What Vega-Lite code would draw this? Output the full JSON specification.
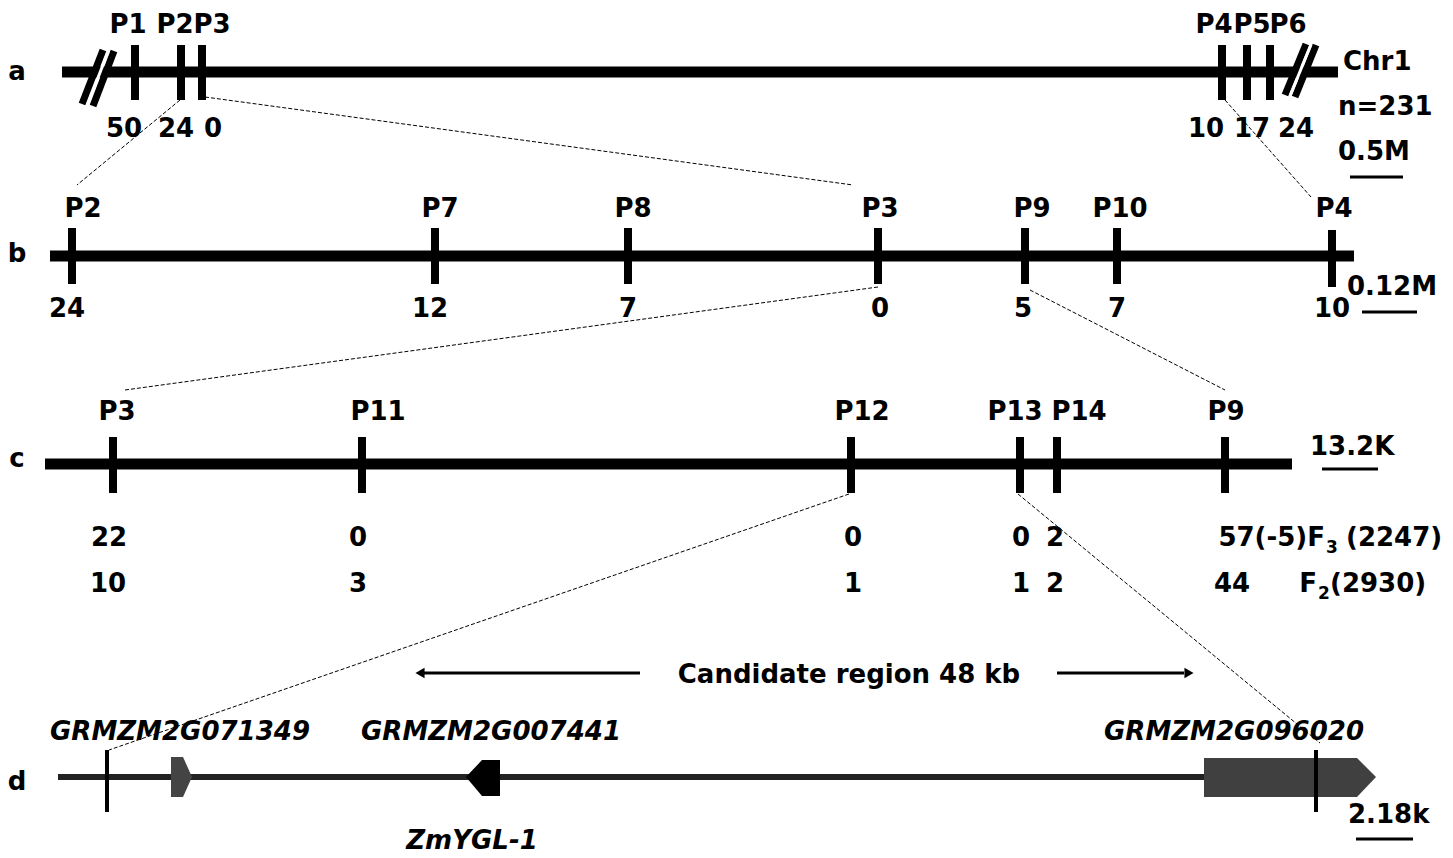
{
  "$schema": "https://vega.github.io/schema/vega-lite/v6.json",
  "width": 1453,
  "height": 858,
  "autosize": {"type": "none"},
  "padding": 0,
  "background": "white",
  "config": {"view": {"stroke": null}},
  "datasets": {
    "segs": [
      {"kind": "dash", "x": 180, "y": 100, "x2": 77, "y2": 185},
      {"kind": "dash", "x": 205, "y": 97, "x2": 853, "y2": 185},
      {"kind": "dash", "x": 1225, "y": 100, "x2": 1311, "y2": 197},
      {"kind": "dash", "x": 878, "y": 287, "x2": 125, "y2": 390},
      {"kind": "dash", "x": 1030, "y": 290, "x2": 1225, "y2": 390},
      {"kind": "dash", "x": 849, "y": 494, "x2": 109, "y2": 750},
      {"kind": "dash", "x": 1018, "y": 494, "x2": 1320, "y2": 743},
      {"kind": "chrom", "x": 62, "y": 72, "x2": 1338, "y2": 72},
      {"kind": "chrom", "x": 50, "y": 256, "x2": 1354, "y2": 256},
      {"kind": "chrom", "x": 45, "y": 464, "x2": 1292, "y2": 464},
      {"kind": "tick", "x": 135, "y": 45, "x2": 135, "y2": 100},
      {"kind": "tick", "x": 181, "y": 45, "x2": 181, "y2": 100},
      {"kind": "tick", "x": 202, "y": 45, "x2": 202, "y2": 100},
      {"kind": "tick", "x": 1222, "y": 45, "x2": 1222, "y2": 100},
      {"kind": "tick", "x": 1247, "y": 45, "x2": 1247, "y2": 100},
      {"kind": "tick", "x": 1270, "y": 45, "x2": 1270, "y2": 100},
      {"kind": "tick", "x": 72, "y": 228, "x2": 72, "y2": 284},
      {"kind": "tick", "x": 435, "y": 228, "x2": 435, "y2": 284},
      {"kind": "tick", "x": 628, "y": 228, "x2": 628, "y2": 284},
      {"kind": "tick", "x": 878, "y": 228, "x2": 878, "y2": 284},
      {"kind": "tick", "x": 1025, "y": 228, "x2": 1025, "y2": 284},
      {"kind": "tick", "x": 1117, "y": 228, "x2": 1117, "y2": 284},
      {"kind": "tick", "x": 1332, "y": 230, "x2": 1332, "y2": 287},
      {"kind": "tick", "x": 113, "y": 437, "x2": 113, "y2": 493},
      {"kind": "tick", "x": 362, "y": 437, "x2": 362, "y2": 493},
      {"kind": "tick", "x": 851, "y": 437, "x2": 851, "y2": 493},
      {"kind": "tick", "x": 1020, "y": 437, "x2": 1020, "y2": 493},
      {"kind": "tick", "x": 1057, "y": 437, "x2": 1057, "y2": 493},
      {"kind": "tick", "x": 1225, "y": 437, "x2": 1225, "y2": 493},
      {"kind": "slash", "x": 82, "y": 104, "x2": 103, "y2": 50},
      {"kind": "slash", "x": 93, "y": 106, "x2": 114, "y2": 51},
      {"kind": "slash", "x": 1285, "y": 95, "x2": 1306, "y2": 44},
      {"kind": "slash", "x": 1295, "y": 97, "x2": 1316, "y2": 45},
      {"kind": "gap", "x": 87.5, "y": 105, "x2": 108.5, "y2": 50.5},
      {"kind": "gap", "x": 1290, "y": 96, "x2": 1311, "y2": 44.5},
      {"kind": "gline", "x": 58, "y": 777, "x2": 1210, "y2": 777},
      {"kind": "marker", "x": 107, "y": 750, "x2": 107, "y2": 812},
      {"kind": "marker", "x": 1316, "y": 750, "x2": 1316, "y2": 812},
      {"kind": "scale", "x": 1350, "y": 177, "x2": 1403, "y2": 177},
      {"kind": "scale", "x": 1362, "y": 312, "x2": 1417, "y2": 312},
      {"kind": "scale", "x": 1322, "y": 469, "x2": 1378, "y2": 469},
      {"kind": "scale", "x": 1356, "y": 839, "x2": 1413, "y2": 839},
      {"kind": "arrow", "x": 640, "y": 673, "x2": 424, "y2": 673},
      {"kind": "arrow", "x": 1057, "y": 673, "x2": 1184, "y2": 673}
    ],
    "genes": [
      {"gene": "GRMZM2G071349", "x": 171, "y": 757, "y2": 797},
      {"gene": "GRMZM2G071349", "x": 183, "y": 757, "y2": 797},
      {"gene": "GRMZM2G071349", "x": 192, "y": 777, "y2": 777},
      {"gene": "GRMZM2G007441", "x": 466, "y": 777, "y2": 777},
      {"gene": "GRMZM2G007441", "x": 482, "y": 760, "y2": 796},
      {"gene": "GRMZM2G007441", "x": 500, "y": 760, "y2": 796},
      {"gene": "GRMZM2G096020", "x": 1204, "y": 758, "y2": 797},
      {"gene": "GRMZM2G096020", "x": 1357, "y": 758, "y2": 797},
      {"gene": "GRMZM2G096020", "x": 1376, "y": 777, "y2": 777}
    ],
    "heads": [
      {"dir": "left", "x": 420, "y": 673},
      {"dir": "right", "x": 1189, "y": 673}
    ],
    "texts": [
      {"role": "c", "t": "a", "x": 17, "y": 80},
      {"role": "c", "t": "b", "x": 17, "y": 262},
      {"role": "c", "t": "c", "x": 17, "y": 467},
      {"role": "c", "t": "d", "x": 17, "y": 790},
      {"role": "c", "t": "P1", "x": 128, "y": 33},
      {"role": "c", "t": "P2", "x": 175, "y": 33},
      {"role": "c", "t": "P3", "x": 212, "y": 33},
      {"role": "c", "t": "P4", "x": 1214, "y": 33},
      {"role": "c", "t": "P5", "x": 1252, "y": 33},
      {"role": "c", "t": "P6", "x": 1288, "y": 33},
      {"role": "c", "t": "50", "x": 124, "y": 137},
      {"role": "c", "t": "24", "x": 176, "y": 137},
      {"role": "c", "t": "0", "x": 213, "y": 137},
      {"role": "c", "t": "10", "x": 1206, "y": 137},
      {"role": "c", "t": "17", "x": 1252, "y": 137},
      {"role": "c", "t": "24", "x": 1296, "y": 137},
      {"role": "l", "t": "Chr1", "x": 1343, "y": 70},
      {"role": "l", "t": "n=231", "x": 1338, "y": 115},
      {"role": "l", "t": "0.5M", "x": 1338, "y": 160},
      {"role": "c", "t": "P2", "x": 83, "y": 217},
      {"role": "c", "t": "P7", "x": 440, "y": 217},
      {"role": "c", "t": "P8", "x": 633, "y": 217},
      {"role": "c", "t": "P3", "x": 880, "y": 217},
      {"role": "c", "t": "P9", "x": 1032, "y": 217},
      {"role": "c", "t": "P10", "x": 1120, "y": 217},
      {"role": "c", "t": "P4", "x": 1334, "y": 217},
      {"role": "c", "t": "24", "x": 67, "y": 317},
      {"role": "c", "t": "12", "x": 430, "y": 317},
      {"role": "c", "t": "7", "x": 628, "y": 317},
      {"role": "c", "t": "0", "x": 880, "y": 317},
      {"role": "c", "t": "5", "x": 1023, "y": 317},
      {"role": "c", "t": "7", "x": 1117, "y": 317},
      {"role": "c", "t": "10", "x": 1332, "y": 317},
      {"role": "l", "t": "0.12M", "x": 1347, "y": 295},
      {"role": "c", "t": "P3", "x": 117, "y": 420},
      {"role": "c", "t": "P11", "x": 378, "y": 420},
      {"role": "c", "t": "P12", "x": 862, "y": 420},
      {"role": "c", "t": "P13", "x": 1015, "y": 420},
      {"role": "c", "t": "P14", "x": 1079, "y": 420},
      {"role": "c", "t": "P9", "x": 1226, "y": 420},
      {"role": "l", "t": "13.2K", "x": 1310, "y": 455},
      {"role": "c", "t": "22", "x": 109, "y": 546},
      {"role": "c", "t": "0", "x": 358, "y": 546},
      {"role": "c", "t": "0", "x": 853, "y": 546},
      {"role": "c", "t": "0", "x": 1021, "y": 546},
      {"role": "c", "t": "2", "x": 1055, "y": 546},
      {"role": "r", "t": "57(-5)F", "x": 1325, "y": 546},
      {"role": "s", "t": "3", "x": 1326, "y": 553},
      {"role": "l", "t": "(2247)", "x": 1346, "y": 546},
      {"role": "c", "t": "10", "x": 108, "y": 592},
      {"role": "c", "t": "3", "x": 358, "y": 592},
      {"role": "c", "t": "1", "x": 853, "y": 592},
      {"role": "c", "t": "1", "x": 1021, "y": 592},
      {"role": "c", "t": "2", "x": 1055, "y": 592},
      {"role": "c", "t": "44", "x": 1232, "y": 592},
      {"role": "r", "t": "F", "x": 1317, "y": 592},
      {"role": "s", "t": "2", "x": 1318, "y": 599},
      {"role": "l", "t": "(2930)", "x": 1330, "y": 592},
      {"role": "c", "t": "Candidate region 48 kb", "x": 849, "y": 683},
      {"role": "i", "t": "GRMZM2G071349", "x": 180, "y": 740},
      {"role": "i", "t": "GRMZM2G007441", "x": 491, "y": 740},
      {"role": "i", "t": "GRMZM2G096020", "x": 1234, "y": 740},
      {"role": "i", "t": "ZmYGL-1", "x": 472, "y": 849},
      {"role": "l", "t": "2.18k", "x": 1348, "y": 823}
    ]
  },
  "encoding": {
    "x": {"field": "x", "type": "quantitative", "scale": {"domain": [0, 1453], "nice": false, "zero": false}, "axis": null},
    "y": {"field": "y", "type": "quantitative", "scale": {"domain": [0, 858], "nice": false, "zero": false, "reverse": true}, "axis": null}
  },
  "layer": [
    {"data": {"name": "segs"}, "transform": [{"filter": "datum.kind == 'dash'"}],
     "mark": {"type": "rule", "color": "#000", "strokeWidth": 1, "strokeDash": [4, 2]},
     "encoding": {"x2": {"field": "x2"}, "y2": {"field": "y2"}}},
    {"data": {"name": "segs"}, "transform": [{"filter": "datum.kind == 'chrom'"}],
     "mark": {"type": "rule", "color": "#000", "strokeWidth": 11},
     "encoding": {"x2": {"field": "x2"}, "y2": {"field": "y2"}}},
    {"data": {"name": "segs"}, "transform": [{"filter": "datum.kind == 'tick'"}],
     "mark": {"type": "rule", "color": "#000", "strokeWidth": 8},
     "encoding": {"x2": {"field": "x2"}, "y2": {"field": "y2"}}},
    {"data": {"name": "segs"}, "transform": [{"filter": "datum.kind == 'slash'"}],
     "mark": {"type": "rule", "color": "#000", "strokeWidth": 7},
     "encoding": {"x2": {"field": "x2"}, "y2": {"field": "y2"}}},
    {"data": {"name": "segs"}, "transform": [{"filter": "datum.kind == 'gap'"}],
     "mark": {"type": "rule", "color": "#fff", "strokeWidth": 3},
     "encoding": {"x2": {"field": "x2"}, "y2": {"field": "y2"}}},
    {"data": {"name": "segs"}, "transform": [{"filter": "datum.kind == 'gline'"}],
     "mark": {"type": "rule", "color": "#222", "strokeWidth": 6},
     "encoding": {"x2": {"field": "x2"}, "y2": {"field": "y2"}}},
    {"data": {"name": "genes"},
     "mark": {"type": "area", "orient": "vertical", "opacity": 1},
     "encoding": {
       "y2": {"field": "y2"},
       "detail": {"field": "gene"},
       "color": {"field": "gene", "type": "nominal", "legend": null,
                 "scale": {"domain": ["GRMZM2G071349", "GRMZM2G007441", "GRMZM2G096020"], "range": ["#444444", "#000000", "#404040"]}}
     }},
    {"data": {"name": "segs"}, "transform": [{"filter": "datum.kind == 'marker'"}],
     "mark": {"type": "rule", "color": "#000", "strokeWidth": 4},
     "encoding": {"x2": {"field": "x2"}, "y2": {"field": "y2"}}},
    {"data": {"name": "segs"}, "transform": [{"filter": "datum.kind == 'scale'"}],
     "mark": {"type": "rule", "color": "#000", "strokeWidth": 3},
     "encoding": {"x2": {"field": "x2"}, "y2": {"field": "y2"}}},
    {"data": {"name": "segs"}, "transform": [{"filter": "datum.kind == 'arrow'"}],
     "mark": {"type": "rule", "color": "#000", "strokeWidth": 3},
     "encoding": {"x2": {"field": "x2"}, "y2": {"field": "y2"}}},
    {"data": {"name": "heads"},
     "mark": {"type": "point", "filled": true, "color": "#000", "opacity": 1, "size": 110},
     "encoding": {"shape": {"field": "dir", "type": "nominal", "legend": null,
       "scale": {"domain": ["left", "right"], "range": ["triangle-left", "triangle-right"]}}}},
    {"data": {"name": "texts"}, "transform": [{"filter": "datum.role == 'c'"}],
     "mark": {"type": "text", "font": "DejaVu Sans", "fontWeight": "bold", "fontSize": 26, "align": "center", "baseline": "alphabetic", "color": "#000"},
     "encoding": {"text": {"field": "t"}}},
    {"data": {"name": "texts"}, "transform": [{"filter": "datum.role == 'l'"}],
     "mark": {"type": "text", "font": "DejaVu Sans", "fontWeight": "bold", "fontSize": 26, "align": "left", "baseline": "alphabetic", "color": "#000"},
     "encoding": {"text": {"field": "t"}}},
    {"data": {"name": "texts"}, "transform": [{"filter": "datum.role == 'r'"}],
     "mark": {"type": "text", "font": "DejaVu Sans", "fontWeight": "bold", "fontSize": 26, "align": "right", "baseline": "alphabetic", "color": "#000"},
     "encoding": {"text": {"field": "t"}}},
    {"data": {"name": "texts"}, "transform": [{"filter": "datum.role == 's'"}],
     "mark": {"type": "text", "font": "DejaVu Sans", "fontWeight": "bold", "fontSize": 17, "align": "left", "baseline": "alphabetic", "color": "#000"},
     "encoding": {"text": {"field": "t"}}},
    {"data": {"name": "texts"}, "transform": [{"filter": "datum.role == 'i'"}],
     "mark": {"type": "text", "font": "DejaVu Sans", "fontWeight": "bold", "fontStyle": "italic", "fontSize": 26, "align": "center", "baseline": "alphabetic", "color": "#000"},
     "encoding": {"text": {"field": "t"}}}
  ]
}
